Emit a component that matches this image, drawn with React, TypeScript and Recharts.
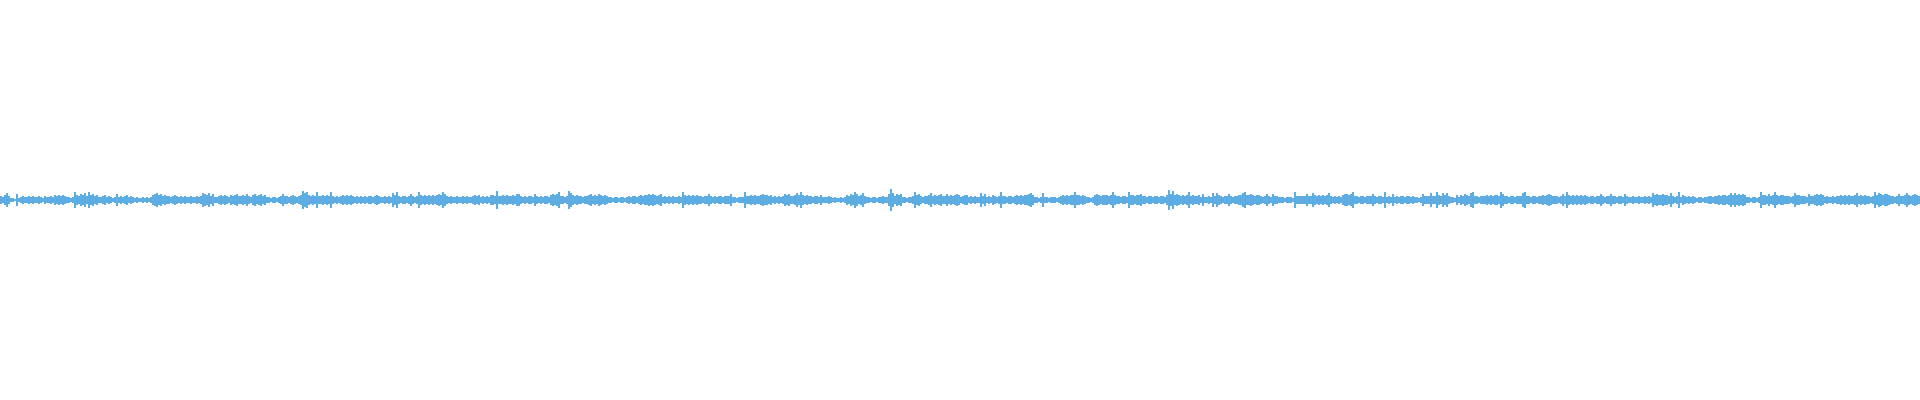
import { BarChart, Bar, XAxis, YAxis } from 'recharts';

// half-height of each 2px column of the waveform, in px, read left to right
const SEG_1 = [4,3,5,7,4,2,2,1,6,2,3,4,3,3,4,3,4,3,3,4,3,2,4,3,3,4,3,5,4,5,4,5,4,3,3,2,3,8,5,4,6,5,7,4,8,5,6,4,5,3,3,4,5,3,4,3,2,3,6,3,4,3,4,5,3,4,3,2,3,2,2,3,2,3,2,3,5,6,7,5,6,4,5,4,4,3,4,5,4,3,4,3,4,3,3,4,3,3,4,3,4,7,6,5,7,4,6,3,3,4,5,4,5,4,3,5,4,5,6,4];
const SEG_2 = [4,5,4,6,4,3,5,6,4,5,6,4,5,3,3,2,3,3,2,3,4,6,4,4,3,4,5,4,3,4,5,9,7,8,5,4,5,4,8,4,4,5,4,5,4,8,4,3,4,3,4,5,4,5,4,5,4,3,4,3,4,3,4,3,4,4,3,4,5,4,3,3,4,3,4,3,7,5,8,4,3,4,4,3,4,6,4,3,4,8,5,4,5,4,5,4,5,4,5,6,5,8,6,4,3,4,3,3,4,3,3,4,3,4,3,3,4,5,4,5];
const SEG_3 = [3,4,3,4,3,5,5,4,9,4,4,5,4,5,4,4,5,4,6,6,4,3,4,3,4,4,3,6,4,3,4,3,4,4,3,5,6,5,6,8,4,4,3,4,9,7,5,4,5,4,4,3,4,4,5,6,4,5,4,6,5,4,5,4,3,3,2,3,3,2,3,3,2,3,4,3,4,4,3,4,5,4,5,5,6,5,6,5,4,5,6,3,4,3,4,3,4,3,3,4,3,8,5,4,5,4,5,4,5,4,4,3,4,4,6,4,3,4,3,4];
const SEG_4 = [4,3,4,4,4,6,3,3,2,3,3,3,8,4,4,5,4,5,4,4,5,6,5,5,4,5,3,4,3,4,3,4,6,5,6,4,4,5,7,5,8,5,4,5,4,4,3,4,4,3,5,3,3,3,4,3,2,3,2,2,3,2,3,5,4,6,5,8,6,4,5,7,4,3,3,2,3,3,2,3,3,4,3,3,6,11,7,4,6,5,6,3,3,2,3,3,4,8,5,6,4,3,4,4,5,7,4,5,4,5,6,4,4,6,4,5,4,5,6,5];
const SEG_5 = [3,4,5,5,3,4,3,4,3,3,7,4,6,3,4,3,5,4,3,4,8,4,4,3,4,4,3,4,5,4,5,4,5,5,6,7,5,3,3,2,3,7,3,3,2,3,3,3,2,3,4,5,4,5,4,5,5,8,5,5,4,5,4,3,3,2,3,5,6,5,4,5,5,5,4,5,8,5,4,4,3,4,4,3,8,5,5,4,5,5,6,4,4,3,4,4,3,4,4,3,4,4,3,5,10,6,9,5,6,5,4,5,4,5,8,4,5,4,4,5];
const SEG_6 = [3,6,3,3,4,3,7,4,7,5,4,3,4,4,6,4,3,4,4,5,5,7,8,5,5,6,5,4,5,5,4,3,4,6,4,3,6,4,4,3,3,3,2,3,3,3,2,8,4,4,4,4,4,6,4,4,7,5,4,5,4,5,4,5,7,4,3,4,3,4,3,5,6,6,5,6,8,4,4,3,4,4,3,4,4,4,6,4,3,4,4,3,8,3,4,3,6,3,4,3,4,4,3,4,4,3,4,3,3,2,3,6,4,4,4,7,4,4,8,5];
const SEG_7 = [4,7,5,7,4,3,3,2,5,3,5,4,6,5,4,7,8,4,4,3,4,4,4,5,4,5,4,5,5,4,8,6,4,4,3,4,4,3,4,4,4,7,8,4,4,3,4,4,3,4,4,5,4,5,6,5,4,4,4,3,4,6,4,8,5,4,5,4,5,4,5,4,5,4,3,4,4,3,4,4,6,4,3,4,4,6,4,4,3,4,4,3,6,4,3,3,4,3,3,4,3,3,4,3,4,3,7,5,6,5,5,6,5,5,4,7,4,3,4,8];
const SEG_8 = [3,5,4,3,4,3,4,3,2,3,3,2,3,3,4,4,3,4,4,5,4,5,5,4,5,7,5,7,5,6,5,6,5,3,3,2,3,3,2,3,8,5,5,4,6,4,5,8,5,4,5,5,4,4,4,3,4,7,5,5,4,4,4,3,6,4,4,5,6,5,6,5,3,4,3,3,4,3,4,4,5,4,5,4,5,4,4,5,7,4,5,4,5,4,4,3,4,8,5,7,6,5,6,6,5,4,4,3,4,6,4,4,5,7,5,4,5,6,5,4];

const AMPLITUDES = [...SEG_1, ...SEG_2, ...SEG_3, ...SEG_4, ...SEG_5, ...SEG_6, ...SEG_7, ...SEG_8];

const data = AMPLITUDES.map((a, i) => ({ i, range: [-a, a] }));

const App = () => (
  <div>
    <style>{`body{margin:0}`}</style>
    <BarChart
      width={1920}
      height={400}
      data={data}
      margin={{ top: 0, right: 0, bottom: 0, left: 0 }}
      barCategoryGap={0}
      barGap={0}
    >
      <XAxis dataKey="i" hide />
      <YAxis hide domain={[-200, 200]} />
      <Bar dataKey="range" fill="#5dade2" isAnimationActive={false} style={{ shapeRendering: 'crispEdges' }} />
    </BarChart>
  </div>
);

export default App;
